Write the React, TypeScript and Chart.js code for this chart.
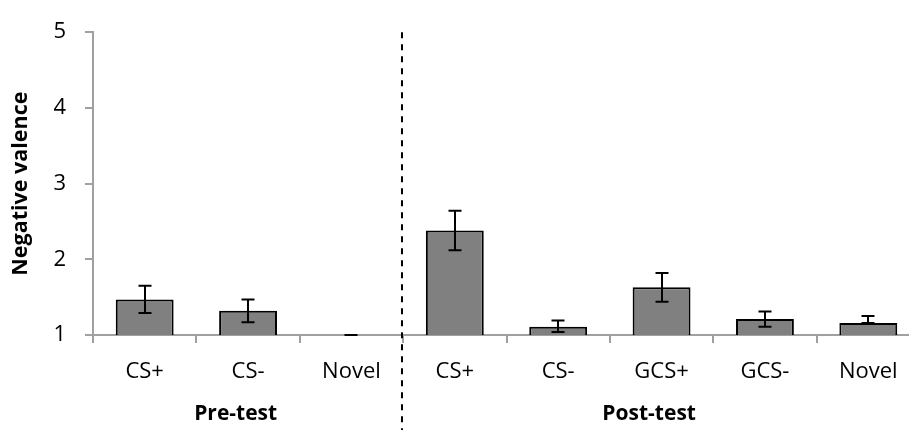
import React, { useEffect, useRef } from "react";
import { Chart, registerables } from "chart.js";

Chart.register(...registerables);

// Stimulus categories, grouped by test phase
const categories = ["CS+", "CS-", "Novel", "CS+", "CS-", "GCS+", "GCS-", "Novel"];
const phases = ["Pre-test", "Post-test"];
const phaseSizes = [3, 5];

// Mean negative valence ratings and their error bars
const meanValence = [1.47, 1.32, 1.0, 2.38, 1.11, 1.63, 1.21, 1.16];
const errorUpper = [0.18, 0.15, 0, 0.26, 0.08, 0.19, 0.1, 0.09];
const errorLower = [0.18, 0.15, 0, 0.26, 0.07, 0.19, 0.1, 0];

// Value axis ticks
const yMin = 1;
const yMax = 5;
const yStep = 1;

const FONT = "'Open Sans', 'DejaVu Sans', sans-serif";

const errorBarPlugin = {
  id: "errorBars",
  afterDatasetsDraw(chart: any) {
    const meta = chart.getDatasetMeta(0);
    const y = chart.scales.y;
    const ctx = chart.ctx;
    ctx.save();
    ctx.strokeStyle = "#000";
    ctx.lineWidth = 2;
    meta.data.forEach((bar: any, i: number) => {
      const v = meanValence[i];
      const top = y.getPixelForValue(v + errorUpper[i]);
      const bottom = y.getPixelForValue(v - errorLower[i]);
      const x = Math.round(bar.x);
      const half = 6.5;
      ctx.beginPath();
      ctx.moveTo(x, top);
      ctx.lineTo(x, bottom);
      ctx.moveTo(x - half, top);
      ctx.lineTo(x + half, top);
      ctx.moveTo(x - half, bottom);
      ctx.lineTo(x + half, bottom);
      ctx.stroke();
    });
    ctx.restore();
  },
};

const phasePlugin = {
  id: "phases",
  afterDraw(chart: any) {
    const x = chart.scales.x;
    const area = chart.chartArea;
    const ctx = chart.ctx;
    const catWidth = (area.right - area.left) / categories.length;
    ctx.save();
    let start = 0;
    phaseSizes.forEach((size, p) => {
      const left = x.getPixelForValue(start) - catWidth / 2;
      const right = x.getPixelForValue(start + size - 1) + catWidth / 2;
      if (p > 0) {
        // dashed divider between the two phases
        ctx.beginPath();
        ctx.setLineDash([6, 6]);
        ctx.lineWidth = 2;
        ctx.strokeStyle = "#000";
        ctx.moveTo(Math.round(left) - 1, area.top);
        ctx.lineTo(Math.round(left) - 1, chart.height);
        ctx.stroke();
        ctx.setLineDash([]);
      }
      ctx.fillStyle = "#000";
      ctx.font = `bold 21px ${FONT}`;
      ctx.textAlign = "center";
      ctx.textBaseline = "alphabetic";
      ctx.fillText(phases[p], (left + right) / 2 - catWidth * 0.12, 420);
      start += size;
    });
    ctx.restore();
  },
};

export default function App() {
  const canvasRef = useRef<HTMLCanvasElement | null>(null);

  useEffect(() => {
    if (!canvasRef.current) return;
    const chart = new Chart(canvasRef.current, {
      type: "bar",
      data: {
        labels: categories,
        datasets: [
          {
            data: meanValence,
            backgroundColor: "#808080",
            borderColor: "#000",
            borderWidth: 2,
            borderSkipped: "start",
            categoryPercentage: 1,
            barPercentage: 0.56,
          },
        ],
      },
      options: {
        responsive: false,
        animation: false,
        devicePixelRatio: 1,
        layout: { padding: { top: 22.5, left: 0, right: 0, bottom: 0 } },
        plugins: {
          legend: { display: false },
          tooltip: { enabled: false },
        },
        scales: {
          x: {
            offset: true,
            grid: {
              offset: true,
              drawOnChartArea: false,
              drawTicks: true,
              tickLength: 8,
              color: "#a0a0a0",
              lineWidth: 2,
            },
            border: { color: "#a0a0a0", width: 2 },
            ticks: {
              color: "#000",
              font: { family: FONT, size: 22 },
              padding: 16,
              maxRotation: 0,
              autoSkip: false,
            },
            afterFit(scale: any) {
              scale.height = 95;
            },
          },
          y: {
            min: yMin,
            max: yMax,
            grid: {
              drawOnChartArea: false,
              drawTicks: true,
              tickLength: 8,
              color: "#a0a0a0",
              lineWidth: 2,
            },
            border: { color: "#a0a0a0", width: 2 },
            ticks: {
              stepSize: yStep,
              color: "#000",
              font: { family: FONT, size: 22 },
              padding: 19,
            },
            title: {
              display: true,
              text: "Negative valence",
              color: "#000",
              font: { family: FONT, size: 21.5, weight: "bold" },
              padding: { top: 8, bottom: 0 },
            },
            afterFit(scale: any) {
              scale.width = 93;
            },
          },
        },
      },
      plugins: [errorBarPlugin, phasePlugin],
    });
    return () => chart.destroy();
  }, []);

  return (
    <div
      style={{
        position: "fixed",
        left: 0,
        top: 0,
        width: 909,
        height: 430,
        overflow: "hidden",
        background: "#fff",
      }}
    >
      <canvas ref={canvasRef} width={920} height={430} />
    </div>
  );
}
